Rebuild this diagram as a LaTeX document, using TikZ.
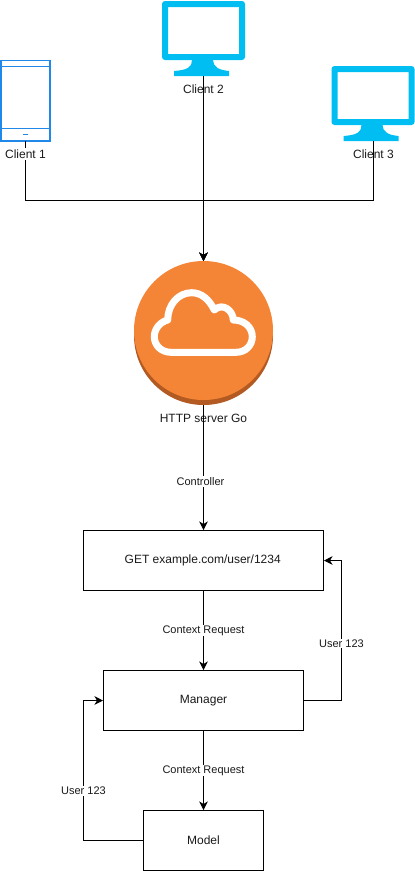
\documentclass[tikz,border=0pt]{standalone}
\usepackage{fontspec}
\setmainfont{Liberation Sans}
\usetikzlibrary{arrows.meta}
\definecolor{moncol}{HTML}{00BEF2}
\definecolor{phonecol}{HTML}{2088E8}
\definecolor{awsorange}{HTML}{F58536}
\definecolor{awsdark}{HTML}{B25A22}
\definecolor{txtcol}{HTML}{1A1A1A}
\tikzset{
  x=1pt,y=-1pt,
  conn/.style={draw=black,line width=1pt},
  arr/.style={conn,-{Stealth[length=8.5pt,width=8.5pt,inset=2.5pt]}},
  procbox/.style={draw=black,line width=1pt,fill=white,minimum height=60pt,inner sep=0pt,font=\fontsize{12}{14}\selectfont,text=txtcol},
  edgelabel/.style={fill=white,inner sep=1pt,font=\fontsize{11}{13}\selectfont,text=txtcol},
  caption/.style={inner sep=0pt,font=\fontsize{12}{14}\selectfont,text=txtcol},
  iconbox/.style={inner sep=0pt,outer sep=0pt,draw=none},
}
\newcommand{\drawmonitor}[2]{%
  \begin{scope}[shift={(#1,#2)}]
    \fill[moncol,even odd rule,rounded corners=3pt] (0,0) rectangle (83,59) (6,6) [sharp corners] rectangle (77,53);
    \fill[moncol] (30,59) .. controls (30,66) and (26,69) .. (12,70) -- (12,75) -- (67,75) -- (67,70) .. controls (57,69) and (51,66) .. (51,59) -- cycle;
  \end{scope}%
}
\begin{document}
\begin{tikzpicture}
\useasboundingbox (0,0) rectangle (415,871);
% server icon
\fill[awsdark] (203.5,335.5) circle[radius=69.5];
\fill[awsorange] (203.5,330.5) circle[radius=69.5];
\draw[white,line width=7pt,line join=round]
  (171,352.3) -- (236,352.3)
  .. controls (246,352.3) and (252.3,345) .. (252.3,336.7)
  .. controls (252.3,327) and (244,320) .. (233.3,320)
  .. controls (233.3,311) and (223,302) .. (214.3,310)
  .. controls (209,299) and (201,292.7) .. (191.7,292.7)
  .. controls (178,292.7) and (167.7,305) .. (167.7,320)
  .. controls (160,322) and (154.3,329) .. (154.3,336.7)
  .. controls (154.3,345) and (161,352.3) .. (171,352.3) -- cycle;
\node[iconbox,minimum width=139pt,minimum height=144pt] (server) at (203.5,333) {};
% icons
\drawmonitor{162}{1}
\drawmonitor{331.5}{66}
\node[iconbox,minimum width=83pt,minimum height=75pt] (c2) at (203.5,38.5) {};
\node[iconbox,minimum width=83pt,minimum height=75pt] (c3) at (373,103.5) {};
\draw[phonecol,line width=1.3pt] (1,60.5) rectangle (50,141);
\draw[phonecol,line width=1.6pt] (1,66.5) -- (50,66.5) (1,128.5) -- (50,128.5);
\draw[phonecol,line width=1.6pt] (23,134.5) -- (28,134.5);
\node[iconbox,minimum width=50pt,minimum height=81pt] (c1) at (25.5,100.5) {};
% labels beneath the lines
\node[caption] (c2label) at (203.5,89) {Client 2};
\node[caption] (c3label) at (373.5,154) {Client 3};
\node[caption] (serverlabel) at (203.5,418.5) {HTTP server Go};
% hub
\coordinate (hub) at (203.5,200.5);
\draw[arr] (c1.south) -- (c1.south |- hub) -- (hub) -- (server.north);
\draw[arr] (c3.south) -- (c3.south |- hub) -- (hub) -- (server.north);
\draw[arr] (c2.south) -- (server.north);
\node[caption,fill=white,inner xsep=1pt,inner ysep=2pt] (c1label) at (25.5,154) {Client 1};
% boxes
\node[procbox,minimum width=240pt] (get) at (203.5,560.5) {\hspace{-1.5pt}\raisebox{-1pt}{GET example.com/user/1234}};
\node[procbox,minimum width=200pt] (manager) at (203.5,700.5) {\raisebox{-1pt}{Manager}};
\node[procbox,minimum width=120pt] (model) at (203.5,840.5) {\raisebox{-1pt}{Model}};
% connectors
\draw[arr] (server.south) -- (get.north);
\node[edgelabel] (ctl) at (200.5,481.5) {Controller};
\draw[arr] (get.south) -- (manager.north);
\node[edgelabel] (cr1) at (203.5,630.5) {Context Request};
\draw[arr] (manager.south) -- (model.north);
\node[edgelabel] (cr2) at (203.5,770.5) {Context Request};
\coordinate (rightbend) at (341.5,630);
\coordinate (leftbend) at (83.5,770);
\draw[arr] (manager.east) -- (manager.east -| rightbend) -- (get.east -| rightbend) -- (get.east);
\draw[arr] (model.west) -- (model.west -| leftbend) -- (manager.west -| leftbend) -- (manager.west);
\node[edgelabel] (u1) at (341.5,643.5) {User 123};
\node[edgelabel] (u2) at (83.5,791) {User 123};
\end{tikzpicture}
\end{document}
